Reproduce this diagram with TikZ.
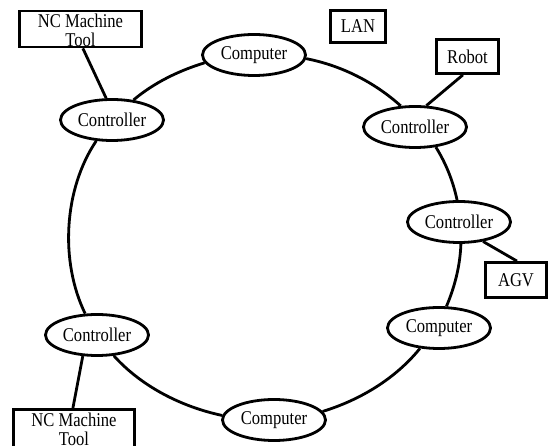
\documentclass[tikz,border=0pt]{standalone}
\usepackage{fontspec}
\setmainfont{Liberation Serif}[FakeStretch=0.85]
\usetikzlibrary{shapes.geometric}

\begin{document}
\begin{tikzpicture}[x=1pt, y=1pt,
    station/.style={draw=black, ellipse, line width=2.8pt, fill=white,
        minimum width=103pt, minimum height=41pt, inner sep=0pt},
    device/.style={draw=black, rectangle, line width=2.8pt, inner sep=0pt, align=center},
    link/.style={line width=2.8pt, looseness=0.86},
    every node/.style={font=\fontsize{19.5}{19}\selectfont}]
    \useasboundingbox (0,0) rectangle (550,-446);
    % stations on the ring
    \node[station] (comptop) at (254,-55) {Computer};
    \node[station] (ctlne) at (415,-127) {Controller};
    \node[station] (ctle) at (459,-222) {Controller};
    \node[station] (compse) at (439,-328) {Computer};
    \node[station] (compbot) at (274,-420) {Computer};
    \node[station] (ctlsw) at (97,-335) {Controller};
    \node[station] (ctlnw) at (112,-120) {Controller};
    % devices
    \node[device, minimum width=122pt, minimum height=35pt, text height=36pt, text depth=0pt] (nctop) at (80.5,-29) {NC Machine\\Tool};
    \node[device, minimum width=55pt, minimum height=32pt] (lan) at (358,-26.5) {LAN};
    \node[device, minimum width=62pt, minimum height=34pt] (robot) at (467.5,-56.5) {Robot};
    \node[device, minimum width=61pt, minimum height=35pt] (agv) at (516,-280) {AGV};
    \node[device, minimum width=121pt, minimum height=39pt, text depth=0pt] (ncbot) at (74,-429) {NC Machine\\Tool};
    % the ring
    \draw[link] (ctle.95) to[out=102, in=-58] (ctlne.-44);
    \draw[link] (ctlne.124) to[out=138, in=-11] (comptop.-4);
    \draw[link] (comptop.189) to[out=197, in=40] (ctlnw.43);
    \draw[link] (ctlnw.233) to[out=236, in=116] (ctlsw.119);
    \draw[link] (ctlsw.-51) to[out=-48, in=168] (compbot.175);
    \draw[link] (compbot.10) to[out=17, in=231] (compse.227);
    \draw[link] (compse.71) to[out=67, in=268] (ctle.-85);
    % device links
    \draw[link] (nctop.277) -- (ctlnw.105);
    \draw[link] (robot.256) -- (ctlne.62);
    \draw[link] (ctle.-39) -- (agv.87);
    \draw[link] (ctlsw.236) -- (ncbot.93);
\end{tikzpicture}
\end{document}
